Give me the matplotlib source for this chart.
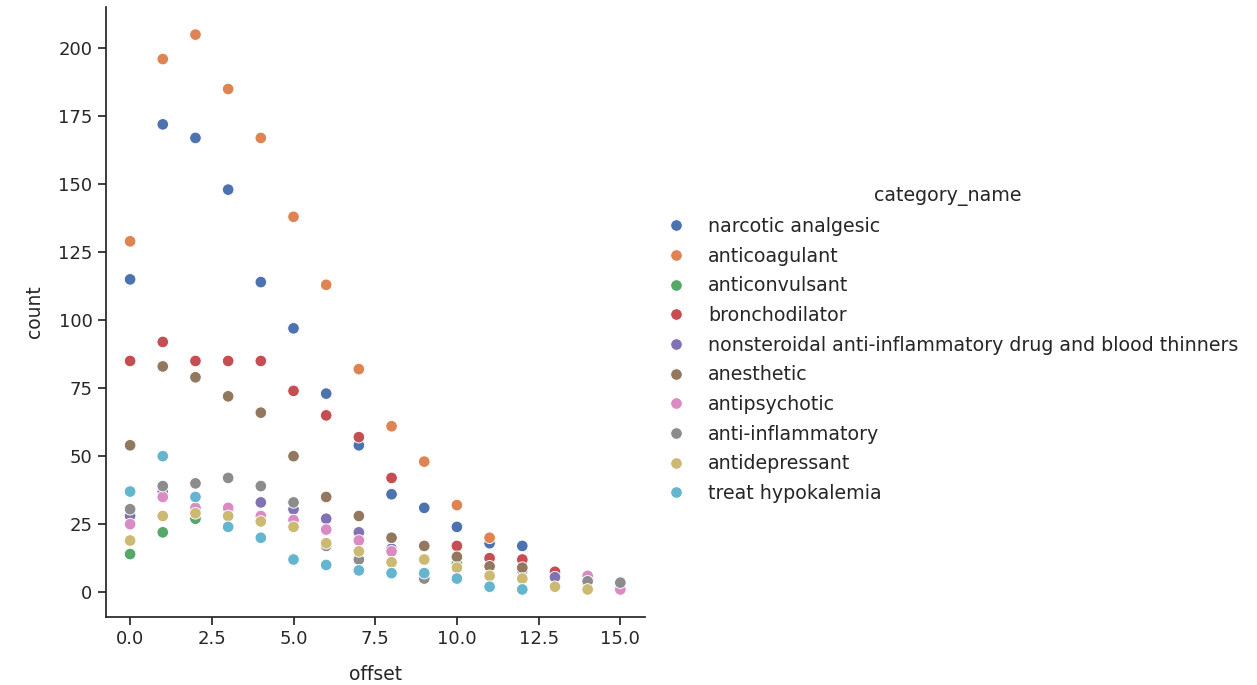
import numpy as np
import pandas as pd
import matplotlib
matplotlib.use("Agg")
import matplotlib.pyplot as plt
import seaborn as sns

# --- DATA ---
offsets = list(range(16))
nan = np.nan

categories = [
    "narcotic analgesic",
    "anticoagulant",
    "anticonvulsant",
    "bronchodilator",
    "nonsteroidal anti-inflammatory drug and blood thinners",
    "anesthetic",
    "antipsychotic",
    "anti-inflammatory",
    "antidepressant",
    "treat hypokalemia",
]

narcotic_analgesic = [115, 172, 167, 148, 114, 97, 73, 54, 36, 31, 24, 18, 17, 6, 4, 3]
anticoagulant = [129, 196, 205, 185, 167, 138, 113, 82, 61, 48, 32, 20, nan, nan, nan, nan]
anticonvulsant = [14, 22, 27, nan, nan, nan, nan, nan, nan, nan, 10.5, nan, nan, nan, nan, nan]
bronchodilator = [85, 92, 85, 85, 85, 74, 65, 57, 42, 17, 17, 12.5, 12, 7.5, 5, nan]
nsaid = [28, 37, 30, 30, 33, 30.5, 27, 22, 16, nan, nan, nan, 8, 5.5, 4.5, 3.5]
anesthetic = [54, 83, 79, 72, 66, 50, 35, 28, 20, 17, 13, 9.5, 9, nan, nan, nan]
antipsychotic = [25, 35, 31, 31, 28, 26.5, 23, 19, 15, nan, nan, nan, nan, nan, 6, 1]
anti_inflammatory = [30.5, 39, 40, 42, 39, 33, 17, 12, nan, 5, nan, nan, nan, nan, 4, 3.5]
antidepressant = [19, 28, 29, 28, 26, 24, 18, 15, 11, 12, 9, 6, 5, 2, 1, nan]
treat_hypokalemia = [37, 50, 35, 24, 20, 12, 10, 8, 7, 7, 5, 2, 1, nan, nan, nan]

series = [narcotic_analgesic, anticoagulant, anticonvulsant, bronchodilator, nsaid,
          anesthetic, antipsychotic, anti_inflammatory, antidepressant, treat_hypokalemia]

rows = []
for name, vals in zip(categories, series):
    for off, v in zip(offsets, vals):
        if not np.isnan(v):
            rows.append({"offset": off, "count": v, "category_name": name})
df = pd.DataFrame(rows)

sns.set_theme(style="ticks", palette="deep")
plt.rcParams["font.family"] = ["DejaVu Sans"]

fig = plt.figure(figsize=(12.57, 6.85), dpi=100)
ax = fig.add_axes([0.084, 0.099, 0.429, 0.891])

sns.scatterplot(data=df, x="offset", y="count", hue="category_name",
                hue_order=categories, s=70, ax=ax, legend=True)
sns.despine(ax=ax)

ax.set_xticks([0.0, 2.5, 5.0, 7.5, 10.0, 12.5, 15.0])
ax.set_yticks([0, 25, 50, 75, 100, 125, 150, 175, 200])
ax.tick_params(labelsize=13)
ax.set_xlabel("offset", fontsize=13.5, labelpad=12)
ax.set_ylabel("count", fontsize=13.5, labelpad=10)

handles, labels = ax.get_legend_handles_labels()
ax.get_legend().remove()
fig.legend(handles, labels, title="category_name", loc="center left",
           bbox_to_anchor=(0.509, 0.497), frameon=False, fontsize=13.7,
           title_fontsize=13.7, markerscale=1.0, labelspacing=0.56,
           handletextpad=0.7)

fig.savefig("out.png", dpi=100)
